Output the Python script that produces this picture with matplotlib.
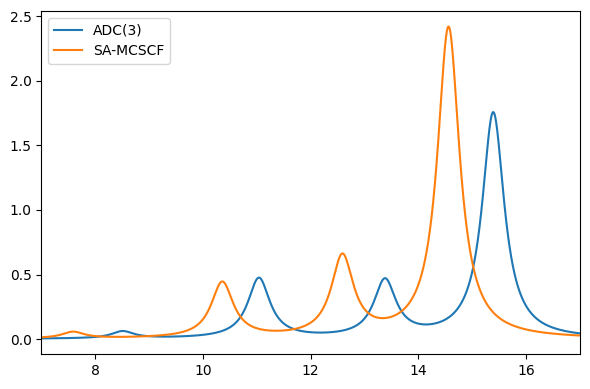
import numpy as np
import matplotlib
matplotlib.use("Agg")
import matplotlib.pyplot as plt

# peak positions (eV) and heights
adc_energies = [8.51, 11.04, 13.38, 15.39]
adc_heights = [0.055, 0.465, 0.44, 1.75]
mcscf_energies = [7.59, 10.36, 12.59, 14.56]
mcscf_heights = [0.05, 0.43, 0.62, 2.41]
gamma = 0.25  # Lorentzian half width


def broaden(x, energies, heights, g=gamma):
    y = np.zeros_like(x)
    for e, h in zip(energies, heights):
        y += h * g**2 / ((x - e) ** 2 + g**2)
    return y


x = np.linspace(7, 17, 2000)

fig, ax = plt.subplots(figsize=(5.9, 3.89), dpi=100)
ax.plot(x, broaden(x, adc_energies, adc_heights), label="ADC(3)")
ax.plot(x, broaden(x, mcscf_energies, mcscf_heights), label="SA-MCSCF")
ax.set_xlim(7, 17)
ax.legend(loc="upper left")
fig.subplots_adjust(left=0.07, right=0.983, top=0.972, bottom=0.09)
fig.savefig("out.png")
